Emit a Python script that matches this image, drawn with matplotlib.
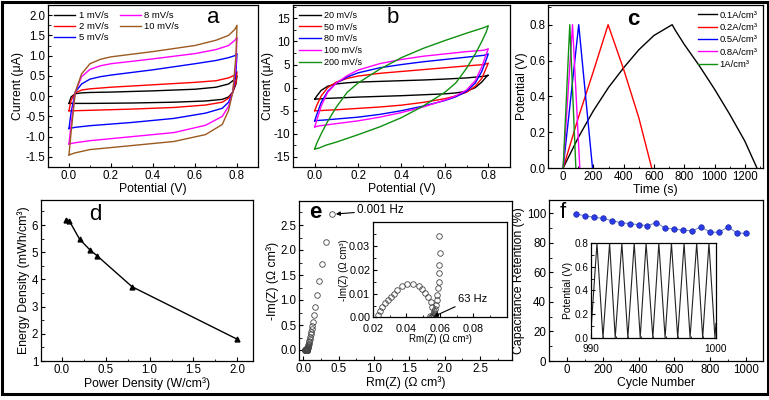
import numpy as np
import matplotlib
matplotlib.use('Agg')
import matplotlib.pyplot as plt
from matplotlib.ticker import AutoMinorLocator, MultipleLocator, FormatStrFormatter
from matplotlib.patches import Rectangle

plt.rcParams['font.family'] = ['Liberation Sans', 'DejaVu Sans']
plt.rcParams['axes.unicode_minus'] = False

# --- (a) CV at low scan rates, current in uA ---
rates_a = ['1 mV/s', '2 mV/s', '5 mV/s', '8 mV/s', '10 mV/s']
colors_a = ['black', '#ff0000', '#0000ff', '#ff00ff', '#9c5a1e']
pot_up_a = [0.0, 0.01, 0.03, 0.06, 0.1, 0.15, 0.2, 0.4, 0.6, 0.7, 0.76, 0.79, 0.8]
pot_dn_a = [0.8, 0.795, 0.78, 0.76, 0.73, 0.65, 0.5, 0.3, 0.1, 0.03, 0.0]
cur_up_a = [
    [-0.18, -0.02, 0.06, 0.08, 0.09, 0.095, 0.1, 0.13, 0.17, 0.22, 0.3, 0.42, 0.5],
    [-0.36, -0.1, 0.08, 0.15, 0.18, 0.2, 0.22, 0.28, 0.34, 0.38, 0.45, 0.52, 0.6],
    [-0.8, -0.4, 0.1, 0.3, 0.42, 0.48, 0.52, 0.65, 0.8, 0.88, 0.95, 1.0, 1.05],
    [-1.18, -0.7, 0.1, 0.48, 0.66, 0.75, 0.8, 0.92, 1.05, 1.15, 1.25, 1.38, 1.45],
    [-1.45, -0.9, 0.1, 0.55, 0.8, 0.91, 0.97, 1.1, 1.25, 1.38, 1.5, 1.65, 1.75],
]
cur_dn_a = [
    [0.5, 0.3, 0.1, -0.02, -0.08, -0.12, -0.15, -0.17, -0.18, -0.18, -0.18],
    [0.6, 0.35, 0.1, -0.05, -0.15, -0.22, -0.28, -0.32, -0.35, -0.36, -0.36],
    [1.05, 0.6, 0.1, -0.15, -0.3, -0.42, -0.55, -0.65, -0.73, -0.77, -0.8],
    [1.45, 0.8, 0.1, -0.25, -0.5, -0.72, -0.9, -1.0, -1.1, -1.15, -1.18],
    [1.75, 1.0, 0.1, -0.35, -0.7, -0.95, -1.12, -1.22, -1.32, -1.4, -1.45],
]

# --- (b) CV at high scan rates ---
rates_b = ['20 mV/s', '50 mV/s', '80 mV/s', '100 mV/s', '200 mV/s']
colors_b = ['black', '#ff0000', '#0000ff', '#ff00ff', '#109010']
pot_up_b = [0.0, 0.01, 0.03, 0.06, 0.1, 0.15, 0.2, 0.3, 0.4, 0.5, 0.6, 0.7, 0.78, 0.8]
pot_dn_b = [0.8, 0.79, 0.77, 0.74, 0.7, 0.65, 0.6, 0.5, 0.4, 0.3, 0.2, 0.1, 0.05, 0.02, 0.0]
cur_up_b = [
    [-2.5, -1.8, -0.6, 0.3, 0.8, 1.05, 1.2, 1.35, 1.5, 1.65, 1.85, 2.1, 2.45, 2.7],
    [-5.0, -3.8, -1.8, 0.0, 1.2, 2.0, 2.5, 3.1, 3.5, 3.9, 4.3, 4.7, 5.0, 5.3],
    [-7.2, -5.8, -3.2, -0.8, 1.0, 2.3, 3.2, 4.3, 5.0, 5.6, 6.1, 6.6, 7.0, 7.3],
    [-8.5, -7.0, -4.0, -1.0, 1.0, 2.6, 3.8, 5.2, 6.1, 6.8, 7.3, 7.8, 8.1, 8.4],
    [-13.3, -12.0, -10.0, -7.3, -4.2, -1.0, 1.0, 4.0, 6.5, 8.5, 10.2, 11.8, 13.0, 13.4],
]
cur_dn_b = [
    [2.7, 2.3, 1.2, 0.0, -0.8, -1.15, -1.35, -1.55, -1.75, -1.9, -2.05, -2.25, -2.35, -2.45, -2.5],
    [5.3, 4.2, 2.0, 0.3, -1.0, -1.8, -2.4, -3.2, -3.8, -4.2, -4.5, -4.8, -4.9, -5.0, -5.0],
    [7.3, 6.0, 3.5, 1.0, -0.8, -2.0, -2.8, -4.0, -5.0, -5.8, -6.4, -6.8, -7.0, -7.1, -7.2],
    [8.4, 7.2, 4.5, 1.5, -0.5, -1.8, -2.7, -4.2, -5.4, -6.4, -7.2, -7.8, -8.1, -8.3, -8.5],
    [13.4, 12.0, 10.0, 7.3, 4.2, 1.0, -1.0, -4.0, -6.5, -8.5, -10.2, -11.8, -12.5, -13.1, -13.3],
]

# --- (c) galvanostatic charge/discharge ---
currents_c = ['0.1A/cm³', '0.2A/cm³', '0.5A/cm³', '0.8A/cm³', '1A/cm³']
colors_c = ['black', '#ff0000', '#0000ff', '#ff00ff', '#109010']
time_c = [
    [0, 100, 200, 300, 400, 500, 600, 720, 740, 800, 900, 1000, 1100, 1200, 1280],
    [0, 100, 200, 297, 400, 500, 585],
    [0, 103, 194],
    [0, 62, 110],
    [0, 44, 84],
]
volt_c = [
    [0.0, 0.17, 0.32, 0.45, 0.56, 0.66, 0.74, 0.80, 0.77, 0.69, 0.57, 0.44, 0.30, 0.15, 0.0],
    [0.0, 0.28, 0.54, 0.80, 0.55, 0.28, 0.0],
    [0.0, 0.80, 0.0],
    [0.0, 0.80, 0.0],
    [0.0, 0.80, 0.0],
]

# --- (d) Ragone plot ---
power_d = [0.042, 0.084, 0.2, 0.32, 0.4, 0.8, 2.0]
energy_d = [6.18, 6.15, 5.48, 5.08, 4.87, 3.73, 1.80]

# --- (e) Nyquist plot ---
rm_e = [0.40, 0.32, 0.265, 0.22, 0.19, 0.166, 0.15, 0.137, 0.128, 0.12, 0.112,
        0.105, 0.098, 0.092, 0.086, 0.081, 0.076, 0.072, 0.068, 0.065, 0.062,
        0.0592, 0.0600, 0.0596, 0.0594, 0.0592, 0.0588, 0.0584, 0.0580, 0.0575,
        0.0571, 0.0565, 0.0559, 0.0555, 0.0548, 0.0540, 0.0566,
        0.0571, 0.0563, 0.0555, 0.0544, 0.0530, 0.0513, 0.0493, 0.0472, 0.0437,
        0.0406, 0.0375, 0.0344, 0.0324, 0.0307, 0.0291, 0.0272, 0.0256, 0.0240,
        0.0228]
im_e = [2.71, 2.16, 1.72, 1.39, 1.10, 0.87, 0.70, 0.57, 0.49, 0.43, 0.37,
        0.32, 0.27, 0.23, 0.19, 0.155, 0.125, 0.10, 0.08, 0.062, 0.047,
        0.0343, 0.0273, 0.0222, 0.0186, 0.0151, 0.0123, 0.0094, 0.0073, 0.0052,
        0.0034, 0.0020, 0.0010, 0.0004, 0.0003, 0.0008, 0.0006,
        0.0014, 0.0028, 0.0045, 0.0066, 0.0085, 0.0101, 0.0118, 0.0132, 0.0143,
        0.0143, 0.0134, 0.0117, 0.0099, 0.0085, 0.0073, 0.0059, 0.0045, 0.0028,
        0.0012]

# --- (f) cycling stability ---
cycles_f = [50, 100, 150, 200, 250, 300, 350, 400, 450, 500,
            550, 600, 650, 700, 750, 800, 850, 900, 950, 1000]
retention_f = [99.5, 98.4, 97.3, 96.6, 95.0, 93.7, 93.0, 92.3, 91.6, 93.7,
               89.8, 89.4, 88.5, 88.2, 90.7, 87.1, 87.3, 90.7, 86.7, 86.4]
t_inset_f = [990.0, 990.48, 990.96, 991.49, 991.94, 992.47, 992.95, 993.46, 993.94,
             994.41, 994.95, 995.43, 995.93, 996.44, 996.94, 997.45, 997.93,
             998.46, 998.94, 999.44, 999.92, 1000.0]
v_inset_f = [0.06, 0.8, 0.0, 0.8, 0.0, 0.8, 0.0, 0.8, 0.0, 0.8, 0.0,
             0.8, 0.0, 0.8, 0.0, 0.8, 0.0, 0.8, 0.0, 0.8, 0.0, 0.12]

TICK = 8.3
LBL = 8.8


def style(ax, fs=TICK):
    ax.tick_params(which='both', direction='in', top=False, right=False,
                   labelsize=fs, pad=2)
    ax.tick_params(which='major', length=3, width=0.8)
    ax.tick_params(which='minor', length=1.8, width=0.6)
    ax.xaxis.set_minor_locator(AutoMinorLocator(2))
    ax.yaxis.set_minor_locator(AutoMinorLocator(2))
    for s in ax.spines.values():
        s.set_linewidth(0.9)


def letter(ax, x, y, s, **kw):
    ax.text(x, y, s, transform=ax.transAxes, fontsize=16, ha='center',
            va='center', **kw)


fig = plt.figure(figsize=(7.69, 4.0), dpi=100)

# (a)
ax = fig.add_axes([0.0624, 0.5825, 0.2731, 0.405])
for lab, col, up, dn in zip(rates_a, colors_a, cur_up_a, cur_dn_a):
    ax.plot(pot_up_a + pot_dn_a, up + dn, color=col, lw=1.0, label=lab)
ax.set_xlim(-0.1, 0.9)
ax.set_ylim(-1.75, 2.25)
ax.xaxis.set_major_locator(MultipleLocator(0.2))
ax.yaxis.set_major_locator(MultipleLocator(0.5))
style(ax)
ax.set_xlabel('Potential (V)', fontsize=LBL, labelpad=1)
ax.set_ylabel('Current (μA)', fontsize=LBL, labelpad=1)
ax.legend(ncol=2, loc='upper left', bbox_to_anchor=(0.0, 1.0), frameon=False,
          fontsize=6.8, handlelength=2.2, columnspacing=1.2, labelspacing=0.2,
          handletextpad=0.4, borderaxespad=0.25)
letter(ax, 0.786, 0.92, 'a')

# (b)
ax = fig.add_axes([0.381, 0.5825, 0.2822, 0.405])
for lab, col, up, dn in zip(rates_b, colors_b, cur_up_b, cur_dn_b):
    ax.plot(pot_up_b + pot_dn_b, up + dn, color=col, lw=1.0, label=lab)
ax.set_xlim(-0.1, 0.9)
ax.set_ylim(-17.2, 17.9)
ax.xaxis.set_major_locator(MultipleLocator(0.2))
ax.yaxis.set_major_locator(MultipleLocator(5))
style(ax)
ax.set_xlabel('Potential (V)', fontsize=LBL, labelpad=1)
ax.set_ylabel('Current (μA)', fontsize=LBL, labelpad=0)
ax.legend(loc='upper left', bbox_to_anchor=(0.0, 1.0), frameon=False,
          fontsize=6.5, handlelength=2.4, labelspacing=0.3,
          handletextpad=0.4, borderaxespad=0.25)
letter(ax, 0.46, 0.92, 'b')

# (c)
ax = fig.add_axes([0.7126, 0.58, 0.2796, 0.4075])
for lab, col, t, v in zip(currents_c, colors_c, time_c, volt_c):
    ax.plot(t, v, color=col, lw=1.0, label=lab)
ax.set_xlim(-100, 1320)
ax.set_ylim(0, 0.91)
ax.xaxis.set_major_locator(MultipleLocator(200))
ax.yaxis.set_major_locator(MultipleLocator(0.2))
style(ax)
ax.set_xlabel('Time (s)', fontsize=LBL, labelpad=1)
ax.set_ylabel('Potential (V)', fontsize=LBL, labelpad=1)
ax.legend(loc='upper right', bbox_to_anchor=(1.0, 1.0), frameon=False,
          fontsize=6.8, handlelength=2.0, labelspacing=0.35,
          handletextpad=0.3, borderaxespad=0.2)
letter(ax, 0.395, 0.914, 'c', fontweight='bold')

# (d)
ax = fig.add_axes([0.0533, 0.0975, 0.2757, 0.4025])
ax.plot(power_d, energy_d, '-^', color='black', lw=1.0, ms=3.5)
ax.set_xlim(-0.24, 2.18)
ax.set_ylim(1, 6.92)
ax.xaxis.set_major_locator(MultipleLocator(0.5))
ax.yaxis.set_major_locator(MultipleLocator(1))
style(ax)
ax.set_xlabel('Power Density (W/cm³)', fontsize=LBL, labelpad=1)
ax.set_ylabel('Energy Density (mWh/cm³)', fontsize=LBL, labelpad=1)
letter(ax, 0.255, 0.907, 'd')

# (e) main + inset
ax = fig.add_axes([0.3888, 0.1, 0.277, 0.3975])
ax.plot(rm_e, im_e, 'o', mfc='none', mec='#444444', ms=4, mew=0.6)
ax.set_xlim(-0.06, 2.95)
ax.set_ylim(-0.2, 2.98)
ax.xaxis.set_major_locator(MultipleLocator(0.5))
ax.yaxis.set_major_locator(MultipleLocator(0.5))
style(ax)
ax.set_xlabel('Rm(Z) (Ω cm³)', fontsize=LBL, labelpad=1)
ax.set_ylabel('-Im(Z) (Ω cm³)', fontsize=LBL, labelpad=1)
ax.annotate('0.001 Hz', xy=(0.46, 2.72), xytext=(0.76, 2.79), fontsize=8.4,
            va='center',
            arrowprops=dict(arrowstyle='-|>', color='black', lw=0.8,
                            mutation_scale=6, shrinkA=0, shrinkB=0))
letter(ax, 0.075, 0.93, 'e', fontweight='bold')

axi = fig.add_axes([0.485, 0.2063, 0.1743, 0.2375])
axi.plot(rm_e, im_e, 'o', mfc='none', mec='#444444', ms=4, mew=0.6)
axi.set_xlim(0.02, 0.1)
axi.set_ylim(0, 0.04)
axi.set_xticks([0.02, 0.04, 0.06, 0.08])
axi.set_yticks([0.0, 0.01, 0.02, 0.03])
axi.yaxis.set_major_formatter(FormatStrFormatter('%.2f'))
style(axi, fs=7.8)
axi.tick_params(axis='x', pad=4.5)
axi.set_xlabel('Rm(Z) (Ω cm³)', fontsize=7, labelpad=0)
axi.set_ylabel('-Im(Z) (Ω cm³)', fontsize=7, labelpad=0)
axi.annotate('63 Hz', xy=(0.0563, 0.0004), xytext=(0.0705, 0.0078),
             fontsize=8, va='center',
             arrowprops=dict(arrowstyle='-|>', color='black', lw=0.8,
                             mutation_scale=6, shrinkA=0, shrinkB=0))

# (f) main + inset
ax = fig.add_axes([0.7139, 0.0975, 0.2783, 0.4025])
ax.plot(cycles_f, retention_f, '-o', color='#7080c8', lw=0.7,
        mfc='#2b3bea', mec='#1a2a9e', ms=4, mew=0.5)
ax.set_xlim(-100, 1095)
ax.set_ylim(0, 109)
ax.xaxis.set_major_locator(MultipleLocator(200))
ax.yaxis.set_major_locator(MultipleLocator(20))
style(ax)
ax.set_xlabel('Cycle Number', fontsize=LBL, labelpad=1)
ax.set_ylabel('Capacitance Retention (%)', fontsize=LBL, labelpad=1)
letter(ax, 0.065, 0.92, 'f')

axf = fig.add_axes([0.7685, 0.1558, 0.1625, 0.236])
axf.plot(t_inset_f, v_inset_f, color='#222222', lw=0.8)
axf.set_xlim(990, 1000)
axf.set_ylim(0, 0.8)
axf.set_xticks([990, 1000])
axf.yaxis.set_major_locator(MultipleLocator(0.2))
style(axf, fs=7.2)
axf.tick_params(axis='x', pad=4.5)
axf.xaxis.set_minor_locator(MultipleLocator(1))
axf.set_ylabel('Potential (V)', fontsize=7.5, labelpad=1)

# outer frame
fig.add_artist(Rectangle((1.5 / 769, 6.5 / 400), 766 / 769, 392 / 400,
                         transform=fig.transFigure, fill=False, lw=2.2,
                         ec='black'))

fig.savefig('out.png', dpi=100)
